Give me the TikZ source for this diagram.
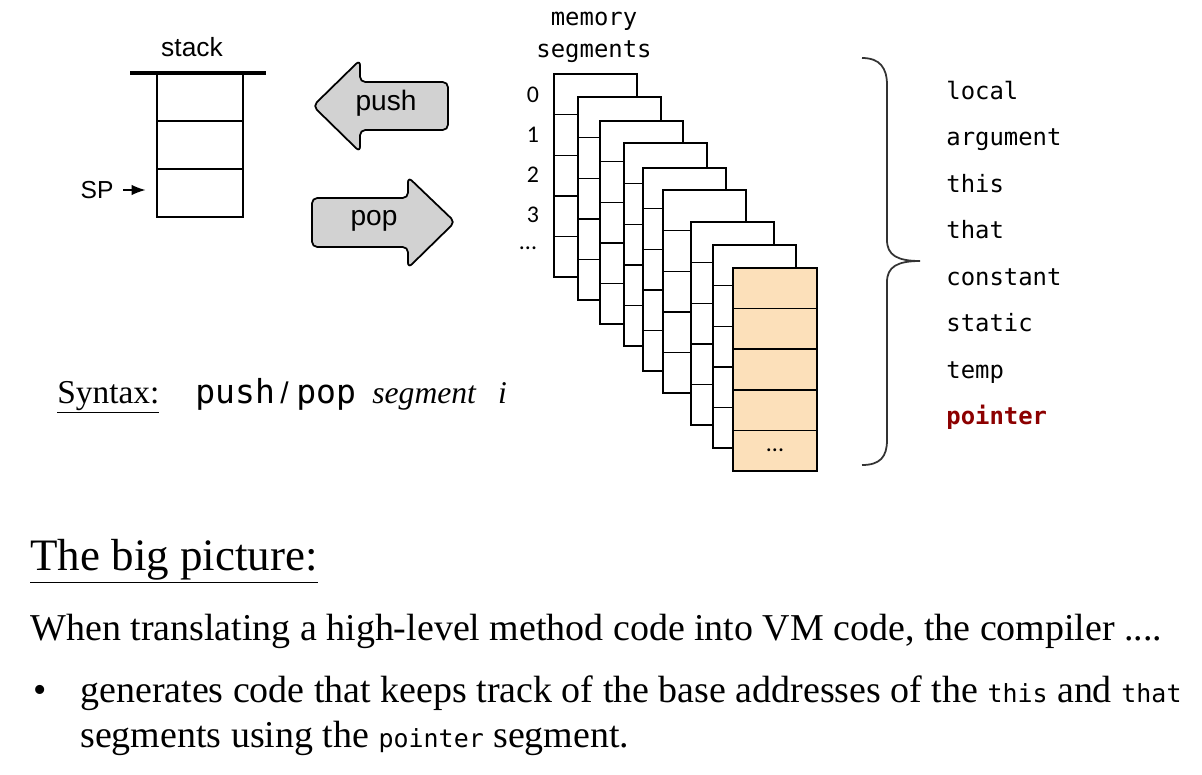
\documentclass[tikz,border=0pt]{standalone}
\usepackage{fontspec}
\setmainfont{Liberation Serif}
\setmonofont{DejaVu Sans Mono}
\newfontfamily\arialf{Liberation Sans}
\newfontfamily\calf{Carlito}
\usetikzlibrary{arrows.meta,positioning}
\definecolor{segorange}{RGB}{252,224,186}
\definecolor{ptrred}{RGB}{140,0,0}
\definecolor{arrowgray}{RGB}{210,210,210}
\newcommand\cw[1]{{\fontsize{14.2}{14.2}\ttfamily #1}}

\begin{document}
\begin{tikzpicture}[x=0.02cm,y=-0.02cm,
  txt/.style={anchor=base west,inner sep=0},
  cell/.style={draw,line width=1.1pt,minimum width=1.72cm,minimum height=0.96cm,inner sep=0,outer sep=0},
  panel/.style={draw,fill=white,line width=0.8pt},
  ocell/.style={draw,fill=segorange,line width=0.8pt,minimum width=1.68cm,minimum height=0.812cm,inner sep=0,outer sep=0,anchor=north west},
  bigarrow/.style={draw,fill=arrowgray,line width=1pt,rounded corners=3pt,line join=round},
  sans/.style={font=\arialf\fontsize{16}{16}\selectfont},
  seglbl/.style={txt,font=\fontsize{13.6}{13.6}\selectfont\ttfamily},
  body/.style={txt,font=\fontsize{21.6}{21.6}\selectfont}]
\useasboundingbox (0,0) rectangle (1202,774);
\node[sans,font=\arialf\fontsize{15}{15}\selectfont] (stk) at (192,47) {stack};
\node[cell] (c1) at (200,97) {};
\node[cell,below=0pt of c1] (c2) {};
\node[cell,below=0pt of c2] (c3) {};
\draw[line width=2.8pt] (c1.north west) ++(-27,0) -- ++(136,0);
\node[sans,font=\arialf\fontsize{14}{14}\selectfont] (sp) at (97,190) {SP};
\draw[-{Latex[length=8pt,width=6pt]},line width=0.8pt,shorten <=2pt,shorten >=6.5pt] (sp.east) -- (sp.east -| c3.west);
\draw[bigarrow] (448,82) -- (360,82) -- (360,60) -- (313,106) -- (360,152) -- (360,130) -- (448,130) -- cycle;
\node[sans] (push) at (386,103) {push};
\draw[bigarrow] (312,198) -- (408,198) -- (408,177) -- (455,222) -- (408,268) -- (408,247) -- (312,247) -- cycle;
\node[sans] (pop) at (374,221) {pop};
\node[anchor=base,font=\fontsize{13.6}{13.6}\selectfont\ttfamily] (mem) at (594,25) {memory};
\node[anchor=base,font=\fontsize{13.6}{13.6}\selectfont\ttfamily] (segs) at (594,57) {segments};
\foreach \d [count=\k from 0] in {0,1,2,3}
  \node[font=\calf\fontsize{13.6}{13.6}\selectfont] (n\k) at (533,95+40*\k) {\d};
\node[font=\calf\fontsize{13.6}{13.6}\selectfont] (ndots) at (528,248) {...};
\foreach \px/\py in {554/74,578/97,600/121,624/143,643/168,663/190,691/222,713/245}{
  \draw[panel] (\px,\py) rectangle ++(83,203);
  \foreach \r in {1,...,4}
    \draw[line width=0.8pt] (\px,\py+40.6*\r) -- ++(83,0);
}
\foreach \r in {0,...,4}
  \node[ocell] (o\r) at (733,268+40.6*\r) {};
\node[font=\calf\fontsize{13.6}{13.6}\selectfont] at (o4) {...};
\draw[line width=1pt,draw=black!80] (862,58) .. controls (880,58) and (887,68) .. (887,85) -- (887,240) .. controls (887,255) and (897,261) .. (920,261) .. controls (897,261) and (887,267) .. (887,282) -- (887,440) .. controls (887,457) and (880,465) .. (862,465);
\foreach \s [count=\k from 0] in {local,argument,this,that,constant,static,temp}
  \node[seglbl] (s\k) at (946,99+46.5*\k) {\s};
\node[seglbl,text=ptrred,font=\fontsize{13.6}{13.6}\selectfont\ttfamily\bfseries] (s7) at (946,424.5) {pointer};
\node[txt,font=\fontsize{19}{19}\selectfont] (syn) at (57,403) {\underline{Syntax:}};
\node[txt,font=\fontsize{18.8}{18.8}\selectfont\ttfamily] (spush) at (195,403) {push};
\node[txt,font=\arialf\fontsize{17}{17}\selectfont] (slash) at (280,403) {/};
\node[txt,font=\fontsize{18.8}{18.8}\selectfont\ttfamily] (spop) at (296,403) {pop};
\node[txt,font=\fontsize{18}{18}\selectfont\itshape] (syn3) at (372,403) {segment\hspace{0.7em}i};
\node[txt,font=\fontsize{25.6}{25.6}\selectfont] (big) at (30,570) {\underline{The big picture:}};
\node[body] (when) at (30,640) {When translating a high-level method code into VM code, the compiler ....};
\node[body] (bul) at (33,702) {\textbullet};
\node[body] (ln1) at (80,702) {generates code that keeps track of the base addresses of the \cw{this} and \cw{that}};
\node[body] (ln2) at (80,747) {segments using the \cw{pointer} segment.};
\end{tikzpicture}
\end{document}
